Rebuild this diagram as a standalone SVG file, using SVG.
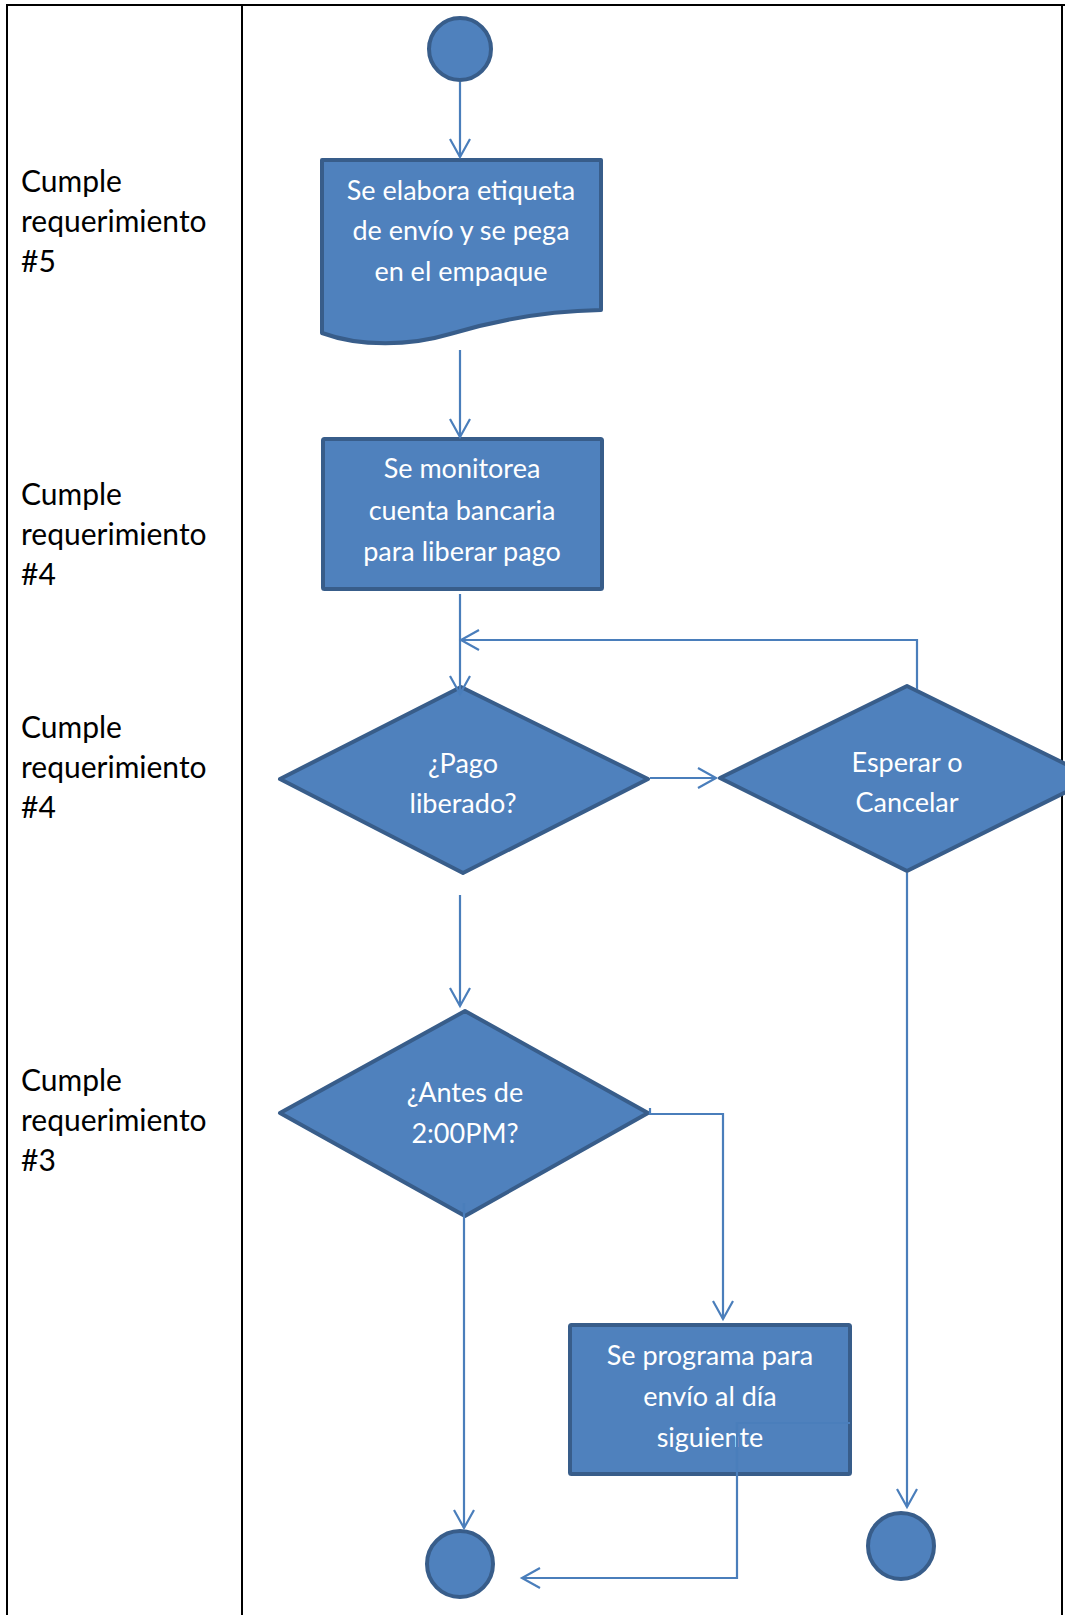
<svg xmlns="http://www.w3.org/2000/svg" width="1065" height="1615" viewBox="0 0 1065 1615">
  <style>
    .grid { stroke: #000000; stroke-width: 2; fill: none; }
    .shape { fill: #4F81BD; stroke: #385D8A; stroke-width: 4; stroke-linejoin: round; }
    .label { font-family: Lato, "Liberation Sans", sans-serif; font-size: 27px; fill: #FFFFFF; text-anchor: middle; }
    .side { font-family: Lato, "Liberation Sans", sans-serif; font-size: 30px; fill: #000000; }
    .conn { fill: none; stroke: #4A7EBB; stroke-width: 2.2; }
  </style>
  <defs>
    <marker id="open-arrow" markerUnits="userSpaceOnUse" markerWidth="24" markerHeight="24" viewBox="-20 -12 22 24" refX="0" refY="0" orient="auto" overflow="visible">
      <path d="M-18,-10 L0,0 L-18,10" fill="none" stroke="#4A7EBB" stroke-width="2.2"/>
    </marker>
  </defs>

  <rect width="1065" height="1615" fill="#FFFFFF"/>

  <!-- table frame and column divider -->
  <g id="table">
    <path class="grid" d="M6,5 H1065"/>
    <path class="grid" d="M7,4 V1615"/>
    <path class="grid" d="M242,5 V1615"/>
    <path class="grid" d="M1062,5 V1615"/>
  </g>

  <!-- requirement notes in the left column -->
  <g id="notes">
    <text class="side" x="21" y="192">Cumple</text>
    <text class="side" x="21" y="232">requerimiento</text>
    <text class="side" x="21" y="272">#5</text>

    <text class="side" x="21" y="505">Cumple</text>
    <text class="side" x="21" y="545">requerimiento</text>
    <text class="side" x="21" y="585">#4</text>

    <text class="side" x="21" y="738">Cumple</text>
    <text class="side" x="21" y="778">requerimiento</text>
    <text class="side" x="21" y="818">#4</text>

    <text class="side" x="21" y="1091">Cumple</text>
    <text class="side" x="21" y="1131">requerimiento</text>
    <text class="side" x="21" y="1171">#3</text>
  </g>

  <g id="start">
    <circle class="shape" cx="460" cy="49" r="31"/>
  </g>

  <g id="etiqueta">
    <path class="shape" d="M322,160 H601 V310 C540,311 490,322 450,334 C410,346 360,347 322,333 Z"/>
    <text class="label" x="461" y="200">Se elabora etiqueta</text>
    <text class="label" x="461" y="240">de envío y se pega</text>
    <text class="label" x="461" y="281">en el empaque</text>
  </g>

  <g id="monitoreo">
    <rect class="shape" x="323" y="439" width="279" height="150" rx="1.5"/>
    <text class="label" x="462" y="478">Se monitorea</text>
    <text class="label" x="462" y="520">cuenta bancaria</text>
    <text class="label" x="462" y="561">para liberar pago</text>
  </g>

  <g id="pago-liberado">
    <path class="shape" d="M461,687 L648,779 L463,873 L280,779 Z"/>
    <text class="label" x="463" y="773">¿Pago</text>
    <text class="label" x="463" y="813">liberado?</text>
  </g>

  <g id="esperar">
    <path class="shape" d="M907,686 L1094,778 L907,871 L720,778 Z"/>
    <text class="label" x="907" y="772">Esperar o</text>
    <text class="label" x="907" y="812">Cancelar</text>
  </g>

  <g id="antes-2pm">
    <path class="shape" d="M465,1011 L648,1113 L465,1216 L280,1113 Z"/>
    <text class="label" x="465" y="1102">¿Antes de</text>
    <text class="label" x="465" y="1143">2:00PM?</text>
  </g>

  <g id="programa">
    <rect class="shape" x="570" y="1325" width="280" height="149" rx="1.5"/>
    <text class="label" x="710" y="1365">Se programa para</text>
    <text class="label" x="710" y="1406">envío al día</text>
    <text class="label" x="710" y="1447">siguiente</text>
  </g>

  <g id="end-1">
    <circle class="shape" cx="460" cy="1564" r="33"/>
  </g>

  <g id="end-2">
    <circle class="shape" cx="901" cy="1546" r="33"/>
  </g>

  <!-- connectors, drawn over the shapes -->
  <g id="connectors">
    <path class="conn" d="M460,82 V157" marker-end="url(#open-arrow)"/>
    <path class="conn" d="M460,350 V437" marker-end="url(#open-arrow)"/>
    <path class="conn" d="M460,594 V694" marker-end="url(#open-arrow)"/>
    <path class="conn" d="M917,689 V640 H461" marker-end="url(#open-arrow)"/>
    <path class="conn" d="M650,778 H716" marker-end="url(#open-arrow)"/>
    <path class="conn" d="M460,895 V1006" marker-end="url(#open-arrow)"/>
    <path class="conn" d="M650,1108 V1114 H723 V1319" marker-end="url(#open-arrow)"/>
    <path class="conn" d="M464,1203 V1528" marker-end="url(#open-arrow)"/>
    <path class="conn" d="M907,873 V1507" marker-end="url(#open-arrow)"/>
    <path class="conn" d="M850,1423 H737 V1578 H522" marker-end="url(#open-arrow)"/>
  </g>
</svg>
